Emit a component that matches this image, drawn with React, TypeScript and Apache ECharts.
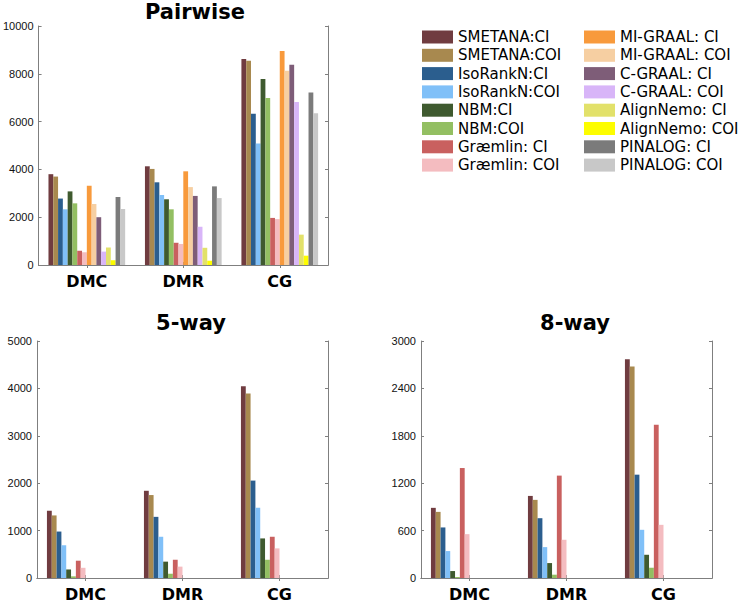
import React, { useEffect, useRef } from 'react';
import * as echarts from 'echarts';

const categories = ['DMC', 'DMR', 'CG'];

const methodNames = [
  'SMETANA:CI', 'SMETANA:COI', 'IsoRankN:CI', 'IsoRankN:COI',
  'NBM:CI', 'NBM:COI', 'Græmlin: CI', 'Græmlin: COI',
  'MI-GRAAL: CI', 'MI-GRAAL: COI', 'C-GRAAL: CI', 'C-GRAAL: COI',
  'AlignNemo: CI', 'AlignNemo: COI', 'PINALOG: CI', 'PINALOG: COI',
];

const methodColors = [
  '#703c40', '#a8894f', '#2b5e8e', '#80c0f8',
  '#3f5a2f', '#93bf62', '#c9605f', '#f4bcc0',
  '#f89a3c', '#f6cfa2', '#7e5d78', '#d8b5f8',
  '#e2e16a', '#fdfd00', '#7b7b7b', '#c8c8c8',
];

// values per method: [DMC, DMR, CG]
const pairwiseValues = [
  [3800, 4130, 8620], [3700, 4020, 8550],
  [2780, 3460, 6330], [2330, 2930, 5080],
  [3080, 2750, 7780], [2580, 2330, 6990],
  [600, 930, 1970], [530, 880, 1920],
  [3320, 3920, 8950], [2550, 3260, 8130],
  [2000, 2890, 8380], [560, 1600, 6820],
  [730, 720, 1270], [200, 180, 390],
  [2850, 3290, 7220], [2340, 2800, 6350],
];

const fiveWayValues = [
  [1420, 1840, 4045], [1320, 1750, 3890],
  [980, 1290, 2055], [690, 870, 1480],
  [180, 345, 835], [35, 90, 385],
  [365, 385, 870], [215, 240, 625],
];

const eightWayValues = [
  [888, 1039, 2768], [837, 989, 2676],
  [640, 757, 1308], [341, 391, 610],
  [88, 189, 294], [13, 42, 130],
  [1392, 1296, 1939], [555, 484, 673],
];

const panelTitles = ['Pairwise', '5-way', '8-way'];
const yMax = [10000, 5000, 3000];
const yInterval = [2000, 1000, 600];

export default function App() {
  const ref = useRef<HTMLDivElement>(null);
  useEffect(() => {
    if (!ref.current) return;
    const chart = echarts.init(ref.current, undefined, { renderer: 'svg' });
    const frameColor = '#7f7f7f';
    const grids = [
      { left: 37, top: 26, width: 291, height: 239 },
      { left: 37, top: 341, width: 291, height: 237 },
      { left: 421, top: 341, width: 291, height: 237 },
    ];
    const titlePos = [
      { x: 195, y: 12 },
      { x: 191, y: 323 },
      { x: 575, y: 323 },
    ];
    const panelData = [pairwiseValues, fiveWayValues, eightWayValues];

    const xAxis: any[] = [];
    const yAxis: any[] = [];
    const series: any[] = [];
    grids.forEach((g, gi) => {
      xAxis.push({
        type: 'category', gridIndex: gi, data: categories, position: 'bottom',
        axisLine: { show: true, lineStyle: { color: frameColor, width: 1 } },
        axisTick: { show: true, inside: true, alignWithLabel: true, length: 3, lineStyle: { color: frameColor } },
        axisLabel: { show: true, margin: 8, fontFamily: 'DejaVu Sans', fontWeight: 'bold', fontSize: 16, color: '#000' },
        splitLine: { show: false },
      });
      xAxis.push({
        type: 'category', gridIndex: gi, data: categories, position: 'top',
        axisLine: { show: true, lineStyle: { color: frameColor, width: 1 } },
        axisTick: { show: true, inside: true, alignWithLabel: true, length: 3, lineStyle: { color: frameColor } },
        axisLabel: { show: false },
        splitLine: { show: false },
      });
      yAxis.push({
        type: 'value', gridIndex: gi, min: 0, max: yMax[gi], interval: yInterval[gi], position: 'left',
        axisLine: { show: true, lineStyle: { color: frameColor, width: 1 } },
        axisTick: { show: true, inside: true, length: 3, lineStyle: { color: frameColor } },
        axisLabel: { show: true, margin: 5, fontFamily: 'Liberation Sans', fontSize: 11, color: '#111', formatter: (v: number) => String(v) },
        splitLine: { show: false },
      });
      yAxis.push({
        type: 'value', gridIndex: gi, min: 0, max: yMax[gi], interval: yInterval[gi], position: 'right',
        axisLine: { show: true, lineStyle: { color: frameColor, width: 1 } },
        axisTick: { show: true, inside: true, length: 3, lineStyle: { color: frameColor } },
        axisLabel: { show: false },
        splitLine: { show: false },
      });
      const vals = panelData[gi];
      methodNames.forEach((name, mi) => {
        series.push({
          type: 'bar', name, xAxisIndex: gi * 2, yAxisIndex: gi * 2,
          data: vals[mi] ? vals[mi] : [null, null, null],
          itemStyle: { color: methodColors[mi] },
          barGap: '0%', barCategoryGap: '20.5%',
          emphasis: { disabled: true },
        });
      });
    });

    const legendCommon = {
      orient: 'vertical', icon: 'rect', itemWidth: 31, itemHeight: 13, itemGap: 0.3, padding: 0,
      textStyle: { fontFamily: 'DejaVu Sans', fontSize: 15, lineHeight: 18, color: '#000' },
    };

    chart.setOption({
      animation: false,
      backgroundColor: '#fff',
      grid: grids,
      xAxis, yAxis, series,
      legend: [
        { ...legendCommon, data: methodNames.slice(0, 8), left: 422, top: 28 },
        { ...legendCommon, data: methodNames.slice(8), left: 584, top: 28 },
      ],
      graphic: panelTitles.map((t, i) => ({
        type: 'text', x: titlePos[i].x, y: titlePos[i].y,
        style: {
          text: t, font: 'bold 21px "DejaVu Sans"', fill: '#000',
          align: 'center', verticalAlign: 'middle', textAlign: 'center', textVerticalAlign: 'middle',
        },
      })),
    });
    return () => chart.dispose();
  }, []);
  return <div ref={ref} style={{ position: 'fixed', left: 0, top: 0, width: 743, height: 605 }} />;
}
